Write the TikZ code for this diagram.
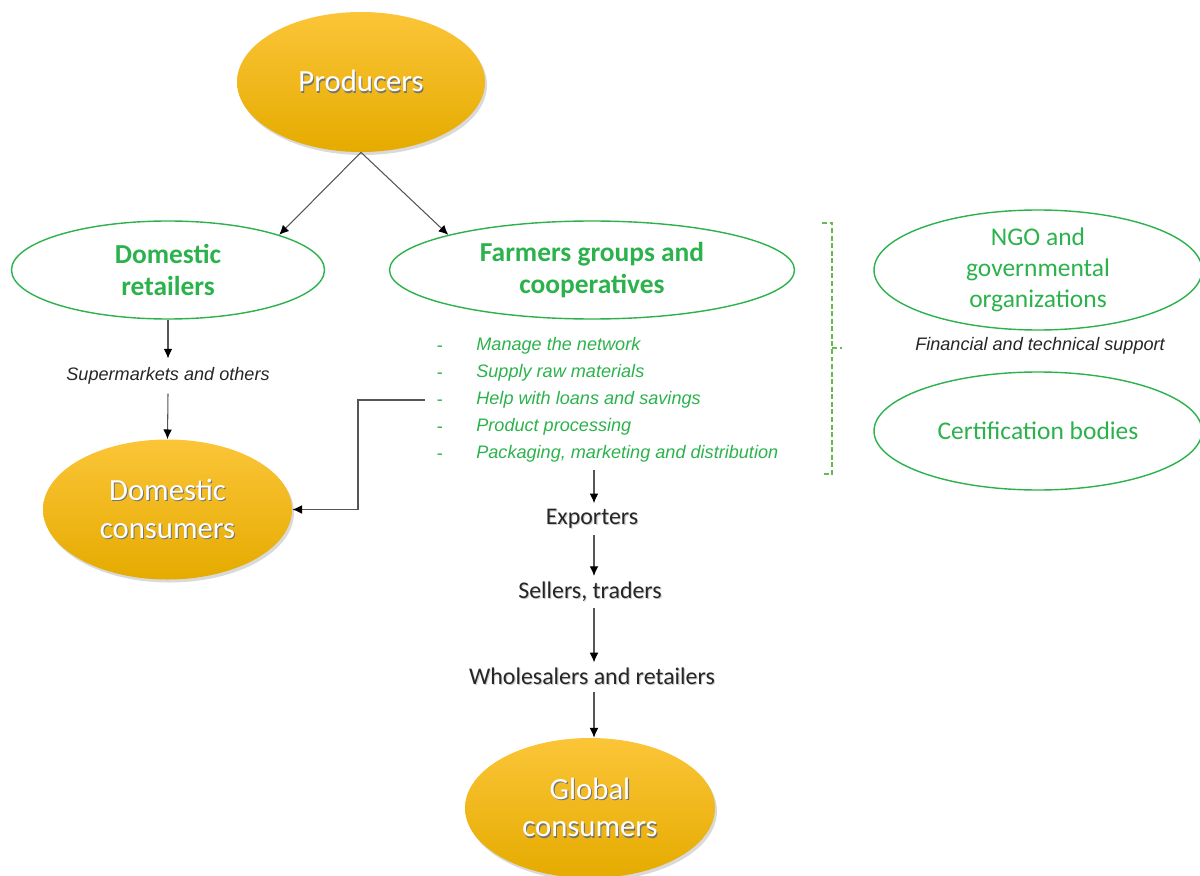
\documentclass[tikz,border=0pt]{standalone}
\usepackage{fontspec}
\setmainfont{Carlito}
\newfontfamily\arialfont{Liberation Sans}
\usetikzlibrary{shapes.geometric,arrows.meta,shadows}

\definecolor{goldtop}{RGB}{251,197,56}
\definecolor{goldmid}{RGB}{255,192,0}
\definecolor{goldbot}{RGB}{229,171,0}
\definecolor{leaf}{RGB}{44,178,76}
\definecolor{fern}{RGB}{104,186,80}
\definecolor{ink}{RGB}{85,85,85}

% text with a small dark offset copy behind it
\newcommand\embossed[2][black!55]{\leavevmode\rlap{\kern0.6pt\raisebox{-0.7pt}{\textcolor{#1}{#2}}}#2}

\tikzset{
  gold/.style={ellipse, inner sep=0pt, draw=none,
    top color=goldtop, middle color=goldmid, bottom color=goldbot,
    text=white, align=center, font=\fontsize{17.5}{21.5}\selectfont,
    drop shadow={opacity=0.3, shadow xshift=0.04cm, shadow yshift=-0.06cm}},
  ring/.style={ellipse, draw=leaf, line width=0.8pt, fill=white,
    inner sep=0pt, text=leaf, align=center},
  arr/.style={draw=ink, line width=0.6pt,
    -{Latex[length=5.5pt,width=5pt,color=black]}},
  note/.style={font=\arialfont\itshape\fontsize{10.3}{12}\selectfont,
    text=black!85, inner sep=5pt},
  item/.style={anchor=west, inner sep=0pt, text=leaf,
    font=\arialfont\itshape\fontsize{10.3}{12}\selectfont},
  dashmark/.style={inner sep=0pt, text=leaf,
    font=\arialfont\fontsize{10.3}{12}\selectfont},
  stage/.style={font=\fontsize{13.6}{16}\selectfont, text=black!85, inner sep=3pt},
  bracket/.style={draw=fern, line width=0.75pt, dash pattern=on 2.8pt off 1.5pt}
}

\begin{document}
\begin{tikzpicture}
\useasboundingbox (0,0) rectangle (24,-17.5);

% main actors
\node[gold, minimum width=4.96cm, minimum height=2.8cm] (prod) at (7.22,-1.64)
  {\embossed{Producers}};
\node[ring, minimum width=6.26cm, minimum height=1.96cm,
  font=\bfseries\fontsize{15.6}{18.7}\selectfont] (dr) at (3.36,-5.4)
  {Domestic\\retailers};
\node[ring, minimum width=8.1cm, minimum height=1.96cm,
  font=\bfseries\fontsize{15.6}{18.7}\selectfont] (fg) at (11.84,-5.4)
  {Farmers groups and\\cooperatives};
\node[ring, minimum width=6.56cm, minimum height=2.4cm,
  font=\fontsize{14.5}{17.6}\selectfont] (ngo) at (20.76,-5.4)
  {NGO and\\governmental\\organizations};
\node[ring, minimum width=6.56cm, minimum height=2.36cm,
  font=\fontsize{14.5}{17.6}\selectfont] (cert) at (20.76,-8.62)
  {Certification bodies};
\node[note] (fin) at (20.8,-6.92) {Financial and technical support};

% domestic chain
\node[note] (sm) at (3.36,-7.52) {Supermarkets and others};
\node[gold, minimum width=4.98cm, minimum height=2.8cm] (dc) at (3.35,-10.19)
  {\embossed{Domestic}\\\embossed{consumers}};

% cooperative services
\foreach \t [count=\i] in {Manage the network, Supply raw materials,
    Help with loans and savings, Product processing,
    {Packaging, marketing and distribution}} {
  \node[dashmark] (dm\i) at (8.8,{-6.98-0.54*(\i-1)}) {-};
  \node[item] (it\i) at (9.52,{-6.92-0.54*(\i-1)}) {\t};
}

% export chain
\node[stage] (exp) at (11.84,-10.38) {\embossed[black!20]{Exporters}};
\node[stage] (sel) at (11.8,-11.84) {\embossed[black!20]{Sellers, traders}};
\node[stage] (whl) at (11.84,-13.54) {\embossed[black!20]{Wholesalers and retailers}};
\node[gold, minimum width=5cm, minimum height=2.8cm] (gc) at (11.8,-16.16)
  {\embossed{Global}\\\embossed{consumers}};

% connectors
\draw[arr] (prod.south) -- (dr.north east);
\draw[arr] (prod.south) -- (fg.north west);
\draw[arr] (dr.south) -- (sm.north);
\draw[arr] (sm.south) -- (dc.north);

\coordinate (lb) at (11.88,-9.4);
\draw[arr] (lb) -- (lb |- exp.north);
\draw[arr] (lb |- exp.south) -- (lb |- sel.north);
\draw[arr] (lb |- sel.south) -- (lb |- whl.north);
\draw[arr] (lb |- whl.south) -- (lb |- gc.north);

\coordinate (hl) at (8.5,-8.0);
\draw[arr] (hl) -- (7.16,-8.0) |- (dc.east);

% support bracket
\draw[bracket] (16.44,-4.46) -- (16.64,-4.46) -- (16.64,-9.48) -- (16.44,-9.48);
\draw[bracket] (16.64,-6.96) -- (16.84,-6.96);
\end{tikzpicture}
\end{document}
